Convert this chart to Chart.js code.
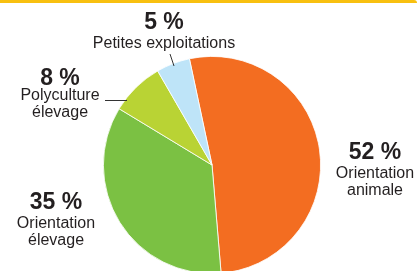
<!DOCTYPE html>
<html>
<head>
<meta charset="utf-8">
<script src="https://cdn.jsdelivr.net/npm/chart.js@4.4.0/dist/chart.umd.min.js"></script>
<style>
  html, body { margin: 0; padding: 0; background: #fff; overflow: hidden; }
  #wrap { position: relative; width: 417px; height: 271px; overflow: hidden; }
  #band { position: absolute; left: 0; top: 0; width: 417px; height: 3px; background: #f8c010; border-top-right-radius: 4px; z-index: 2; }
  #box { position: absolute; left: 0; top: 0; width: 417px; height: 290px; }
</style>
</head>
<body>
<div id="wrap">
  <div id="band"></div>
  <div id="box"><canvas id="pie" width="417" height="290"></canvas></div>
</div>
<script>
// categories and shares (%)
const categories = ['Orientation animale', 'Orientation élevage', 'Polyculture élevage', 'Petites exploitations'];
const shares = [52, 35, 8, 5];
const colors = ['#f36d21', '#7bc143', '#b9d334', '#bee4f8'];

// label lines as they sit in the picture (number first, then wrapped name)
const labelLines = [
  ['Orientation', 'animale'],
  ['Orientation', 'élevage'],
  ['Polyculture', 'élevage'],
  ['Petites exploitations']
];

// where each label block is drawn: centre x, number baseline, first text baseline
const labelPos = [
  { x: 375, y: 159, t: 178 },
  { x: 56, y: 209, t: 228 },
  { x: 60, y: 85, t: 100 },
  { x: 164, y: 29, t: 48 }
];

const labelsPlugin = {
  id: 'sliceLabels',
  afterDraw(chart) {
    const ctx = chart.ctx;
    ctx.save();
    ctx.textAlign = 'center';
    ctx.textBaseline = 'alphabetic';
    shares.forEach((v, i) => {
      const p = labelPos[i];
      ctx.fillStyle = '#231f20';
      ctx.font = 'bold 23px "Liberation Sans", Arial, sans-serif';
      ctx.fillText(v + ' %', p.x, p.y);
      ctx.font = '16px "Liberation Sans", Arial, sans-serif';
      labelLines[i].forEach((line, j) => {
        ctx.fillText(line, p.x, p.t + j * 16.5);
      });
    });
    // leader lines
    ctx.strokeStyle = '#333';
    ctx.lineWidth = 1;
    ctx.beginPath();
    ctx.moveTo(105, 100.5);
    ctx.lineTo(127, 100.5);
    ctx.moveTo(170, 54);
    ctx.lineTo(174, 66);
    ctx.stroke();
    ctx.restore();
  }
};

new Chart(document.getElementById('pie'), {
  type: 'pie',
  data: {
    labels: categories,
    datasets: [{
      data: shares,
      backgroundColor: colors,
      borderColor: '#ffffff',
      borderWidth: 0.8
    }]
  },
  options: {
    responsive: false,
    animation: false,
    rotation: -12,
    layout: { padding: { top: 56, bottom: 16, left: 60, right: 53 } },
    plugins: {
      legend: { display: false },
      tooltip: { enabled: false }
    }
  },
  plugins: [labelsPlugin]
});
</script>
</body>
</html>
